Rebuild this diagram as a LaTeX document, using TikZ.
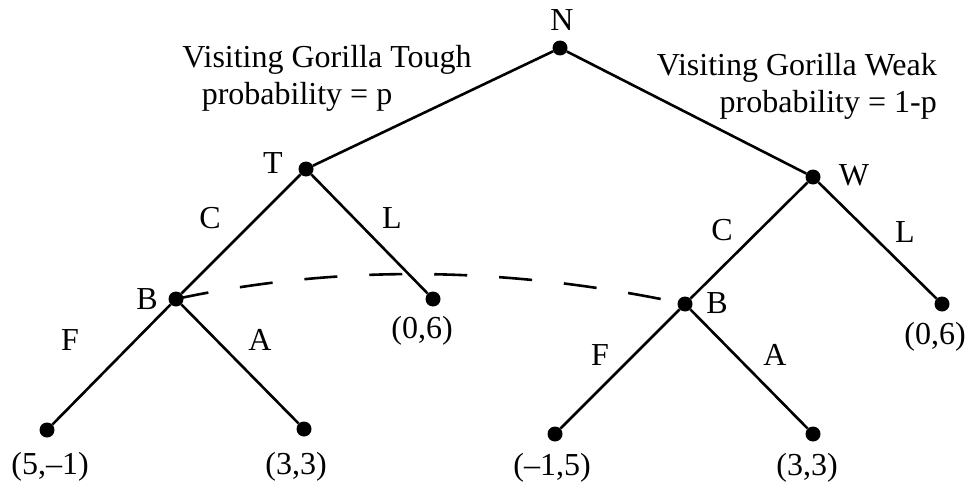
\documentclass[tikz,border=0pt]{standalone}
\usepackage{fontspec}
\setmainfont{Liberation Serif}
\begin{document}
\begin{tikzpicture}[x=1pt,y=-1pt,
  dot/.style={circle,fill=black,inner sep=0pt,minimum size=15pt},
  lbl/.style={inner sep=0pt,font=\fontsize{32}{38}\selectfont},
  edge/.style={line width=2.6pt},
  info/.style={inner sep=0pt,anchor=base,font=\fontsize{32}{38}\selectfont}]
\useasboundingbox (0,0) rectangle (971,487);
% decision nodes
\node[dot] (N) at (560,48) {};
\node[dot] (T) at (306,169) {};
\node[dot] (W) at (813,177) {};
\node[dot] (B1) at (176,299) {};
\node[dot] (B2) at (685,304) {};
\node[dot] (O1) at (433,299) {};
\node[dot] (O2) at (942,304) {};
\node[dot] (P1) at (47,430) {};
\node[dot] (P2) at (304,429) {};
\node[dot] (P3) at (555,434) {};
\node[dot] (P4) at (813,434) {};
% branches
\draw[edge] (N) -- (T);
\draw[edge] (N) -- (W);
\draw[edge] (T) -- (B1);
\draw[edge] (T) -- (O1);
\draw[edge] (W) -- (B2);
\draw[edge] (W) -- (O2);
\draw[edge] (B1) -- (P1);
\draw[edge] (B1) -- (P2);
\draw[edge] (B2) -- (P3);
\draw[edge] (B2) -- (P4);
% information set
\coordinate (q1) at (339,264);
\coordinate (q2) at (508,266);
\draw[edge,dash pattern=on 33pt off 32pt] (B1.center) .. controls (q1) and (q2) .. (B2.center);
% node names
\node[lbl] (tN) at (562,20) {N};
\node[lbl] (tT) at (273,163) {T};
\node[lbl] (tW) at (854,175) {W};
\node[lbl] (tB1) at (147,299) {B};
\node[lbl] (tB2) at (717,303) {B};
% action labels
\node[lbl] (aC1) at (210,218) {C};
\node[lbl] (aL1) at (392,218) {L};
\node[lbl] (aF1) at (70,340) {F};
\node[lbl] (aA1) at (260,340) {A};
\node[lbl] (aC2) at (722,230) {C};
\node[lbl] (aL2) at (905,232) {L};
\node[lbl] (aF2) at (600,355) {F};
\node[lbl] (aA2) at (775,355) {A};
% payoffs
\node[lbl] (v1) at (50,467) {(5,–1)};
\node[lbl] (v2) at (296,467) {(3,3)};
\node[lbl] (v3) at (552,468) {(–1,5)};
\node[lbl] (v4) at (807,468) {(3,3)};
\node[lbl] (v5) at (422,331) {(0,6)};
\node[lbl] (v6) at (935,337) {(0,6)};
% nature's probabilities
\node[info] (i1) at (327,67) {Visiting Gorilla Tough};
\node[info] (i2) at (297,104) {probability = p};
\node[info,anchor=base east] (i3) at (937,75) {Visiting Gorilla Weak};
\node[info,anchor=base east] (i4) at (937,112) {probability = 1-p};
\end{tikzpicture}
\end{document}
